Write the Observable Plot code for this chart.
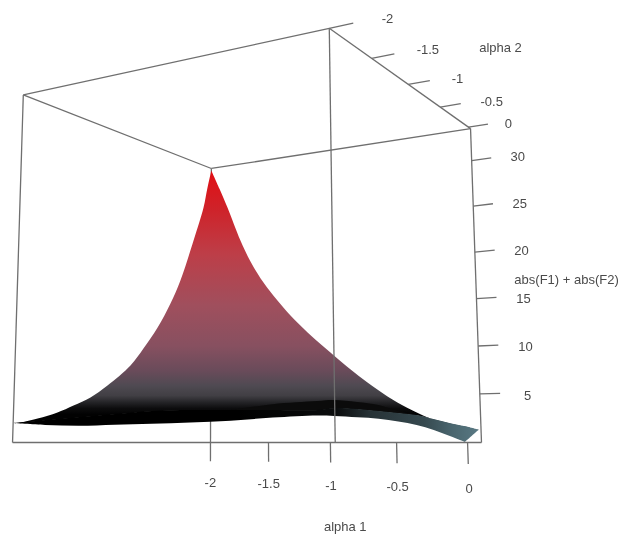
<!DOCTYPE html>
<html>
<head>
<meta charset="utf-8">
<style>html,body{margin:0;padding:0;background:#fff}svg{display:block;filter:blur(0.4px)}</style>
<script src="https://cdn.jsdelivr.net/npm/d3@7"></script>
<script src="https://cdn.jsdelivr.net/npm/@observablehq/plot@0.6"></script>
</head>
<body>
<div id="chart"></div>
<script>
// axis ranges and ticks
const alpha1Range = [-2, 0.094];
const alpha2Range = [0.04, -2];
const zRange = [0, 33.56];
const alpha1Ticks = [-2, -1.5, -1, -0.5, 0];
const alpha2Ticks = [-2, -1.5, -1, -0.5, 0];
const zTicks = [5, 10, 15, 20, 25, 30];
const alpha2LabelAt = [0.418, 0.425, 0.40, 0.43, 0.37];

// surface edge along alpha2 = 0 (alpha1, height)
const edgeA2A1 = [-2, -1.925, -1.852, -1.736, -1.648, -1.536, -1.418, -1.31, -1.171, -1.045, -0.936, -0.834, -0.707, -0.559, -0.414, -0.252, -0.092, 0.07];
const edgeA2Z  = [33.3, 30.85, 28.35, 24.07, 21.39, 18.71, 16.43, 14.56, 12.47, 10.77, 9.34, 8.05, 6.54, 4.96, 3.68, 2.52, 1.77, 1.33];
// surface edge along alpha1 = -2 (alpha2, height)
const edgeA1A2 = [-0.015, -0.064, -0.193, -0.356, -0.475, -0.624, -0.782, -0.921, -1.157, -1.323, -1.482, -1.627, -1.798, -1.98];
const edgeA1Z  = [30.8, 28.3, 23.87, 18.69, 15.77, 12.78, 10.22, 8.22, 5.89, 4.55, 3.66, 2.91, 2.27, 1.75];
// front edge at alpha2 = -2 (alpha1, lower height, crease height)
const frontA1 = [-2, -1.75, -1.5, -1.25, -1, -0.75, -0.5, -0.25, 0, 0.094];
const frontLow = [1.75, 1.54, 1.43, 1.49, 1.54, 1.61, 1.73, 1.93, 2.05, 1.99];
const frontCrease = [1.75, 1.99, 2.21, 2.42, 2.63, 2.65, 2.59, 2.53, 2.47, 2.6];
// side edge at alpha1 = 0.094 (alpha2, lower height, crease height)
const sideA2 = [-1.75, -1.5, -1.25, -1, -0.75, -0.5, -0.25, -0.25, 0];
const sideLow = [1.97, 1.93, 1.77, 1.52, 1.11, 0.57, 0, 0, 1.22];
const sideCrease = [2.63, 2.57, 2.5, 2.41, 2.13, 1.82, 1.58, 1.58, 1.27];
// dark ridge above the crease
const ridgeFrontA1 = [-0.5, -0.25, 0, 0.094];
const ridgeFrontZ = [2.59, 3.0, 3.17, 3.22];
const ridgeSideA2 = [-1.75, -1.5, -1.25, -1];
const ridgeSideZ = [3.19, 3.07, 2.67, 2.41];
// colour ramps
const heightStops = [33.3, 28.5, 22.8, 16.5, 11.5, 8.5, 6.74, 5.55, 4.73, 4.02, 3.3];
const heightColors = ["#e10f14", "#cf2229", "#bd3e48", "#a04f5d", "#875060", "#694b5a", "#4f4a52", "#413f44", "#232326", "#0c0c0d", "#020202"];
const creaseStops = [-1.75, -0.95, -0.7, -0.3, -0.1, 0.07];
const creaseColors = ["#000000", "#0a0c0d", "#263135", "#36494f", "#4a666f", "#587882"];

// perspective of the box (unit cube to page)
function project(a1, a2, z) {
  const u = (a1 - alpha1Range[0]) / (alpha1Range[1] - alpha1Range[0]);
  const v = (alpha2Range[0] - a2) / (alpha2Range[0] - alpha2Range[1]);
  const w = z / zRange[1];
  const q = 1 - 0.132 * u - 0.22 * v;
  const d = q + 0.04 * w;
  return [(210 + 207.5 * u - 200.6 * v + 9.3 * w) / d, (442 * q - 267.3 * w) / d];
}
const pt = (a1, a2, z) => { const [x, y] = project(a1, a2, z); return {x, y}; };
const link = (a, b) => { const p = pt(...a), q = pt(...b); return {x1: p.x, y1: p.y, x2: q.x, y2: q.y}; };

const [aMin, aMax] = alpha1Range, [bMax, bMin] = alpha2Range, zTop = zRange[1];
const tickOut = 0.23, labelOut = 0.41, belowTick = -2.2, belowLabel = -4.7;

const hiddenEdge = [link([aMin, bMax, 0], [aMin, bMax, zTop])];
const boxEdges = [
  link([aMin, bMin, zTop], [aMin, bMax, zTop]),
  link([aMin, bMax, zTop], [aMax, bMax, zTop]),
  link([aMax, bMax, zTop], [aMax, bMin, zTop]),
  link([aMax, bMin, zTop], [aMin, bMin, zTop]),
  link([aMin, bMin, 0], [aMin, bMin, zTop]),
  link([aMax, bMax, 0], [aMax, bMax, zTop]),
  link([aMax, bMin, 0], [aMax, bMin, zTop]),
  link([aMin, bMin, 0], [aMax, bMax, 0])
];
const tickLinks = [
  ...alpha1Ticks.map(t => link([t, bMax, 0], [t, bMax, belowTick])),
  ...alpha2Ticks.map(t => link([aMax, t, zTop], [tickOut, t, zTop])),
  ...zTicks.map(t => link([aMax, bMax, t], [tickOut, bMax, t]))
];
const bottomLabels = [
  ...alpha1Ticks.map(t => ({...pt(t, bMax, belowLabel), text: String(t)})),
  {...pt(-0.895, bMax, -9.1), text: "alpha 1"},
  {...pt(0.758, -1.3, zTop), text: "alpha 2"},
  {...pt(0.69, bMax, 16.3), text: "abs(F1) + abs(F2)"}
];
const sideLabels = [
  ...alpha2Ticks.map((t, i) => ({...pt(alpha2LabelAt[i], t, zTop), text: String(t)})),
  ...zTicks.map(t => ({...pt(labelOut, bMax, t), text: String(t)}))
];

const rows = (stations, place, low, high) => stations.map((s, i) => {
  const l = place(s, low[i]), c = place(s, high[i]);
  return {x1: c.x, y1: c.y, x2: l.x, y2: l.y};
});
const onFront = (a, z) => pt(a, bMin, z);
const onSide = (b, z) => pt(aMax, b, z);
const front = [
  ...rows(frontA1, onFront, frontLow, frontCrease),
  ...rows(sideA2, onSide, sideLow, sideCrease)
];
const ridge = [
  ...rows(ridgeFrontA1, onFront, ridgeFrontA1.map(a => frontCrease[frontA1.indexOf(a)]), ridgeFrontZ),
  ...rows(ridgeSideA2, onSide, ridgeSideA2.map(b => sideCrease[sideA2.indexOf(b)]), ridgeSideZ)
];

// corners are doubled so that the smooth curve stays sharp at them
const rightEdge = edgeA2A1.map((a, i) => pt(a, bMax, edgeA2Z[i]));
const creaseEdge = front.slice().reverse().map(d => ({x: d.x1, y: d.y1}));
const leftEdge = edgeA1A2.map((b, i) => pt(aMin, b, edgeA1Z[i])).reverse();
const outline = [
  rightEdge[0], ...rightEdge, rightEdge[rightEdge.length - 1],
  ...creaseEdge, creaseEdge[creaseEdge.length - 1],
  ...leftEdge, rightEdge[0], rightEdge[0]
];

function gradients(index, scales) {
  const defs = d3.create("svg:defs");
  const y0 = project(aMin, bMax, heightStops[0])[1], y1 = project(aMin, bMax, heightStops[heightStops.length - 1])[1];
  const g1 = defs.append("linearGradient").attr("id", "heightRamp").attr("gradientUnits", "userSpaceOnUse")
    .attr("x1", 0).attr("x2", 0).attr("y1", scales.y(y0)).attr("y2", scales.y(y1));
  heightStops.forEach((h, i) => g1.append("stop")
    .attr("offset", (project(aMin, bMax, h)[1] - y0) / (y1 - y0)).attr("stop-color", heightColors[i]));
  const xs = creaseStops.map(a => project(a, bMax, 0)[0]);
  const g2 = defs.append("linearGradient").attr("id", "creaseRamp").attr("gradientUnits", "userSpaceOnUse")
    .attr("y1", 0).attr("y2", 0).attr("x1", scales.x(xs[0])).attr("x2", scales.x(xs[xs.length - 1]));
  creaseStops.forEach((h, i) => g2.append("stop")
    .attr("offset", (xs[i] - xs[0]) / (xs[xs.length - 1] - xs[0])).attr("stop-color", creaseColors[i]));
  return defs.node();
}

const lineStyle = {x1: "x1", y1: "y1", x2: "x2", y2: "y2", stroke: "#6f6f6f", strokeWidth: 1.3};
const textStyle = {x: "x", y: "y", text: "text", fontSize: 13, fontFamily: "Liberation Sans", fill: "#4a4a4a"};

const chart = Plot.plot({
  width: 620, height: 534,
  margin: 0,
  x: {domain: [0, 620], range: [0, 620], axis: null},
  y: {domain: [0, 534], range: [0, 534], axis: null},
  style: {background: "#fff"},
  marks: [
    gradients,
    Plot.link(hiddenEdge, lineStyle),
    Plot.line(outline, {x: "x", y: "y", fill: "url(#heightRamp)", stroke: "none", curve: "catmull-rom"}),
    Plot.area(ridge, {x1: "x1", y1: "y1", x2: "x2", y2: "y2", fill: "#0b0b0b", curve: "catmull-rom"}),
    Plot.area(front, {x1: "x1", y1: "y1", x2: "x2", y2: "y2", fill: "url(#creaseRamp)", curve: "catmull-rom"}),
    Plot.link(boxEdges, lineStyle),
    Plot.link(tickLinks, lineStyle),
    Plot.text(bottomLabels, textStyle),
    Plot.text(sideLabels, {...textStyle, dy: 3})
  ]
});
document.getElementById("chart").append(chart);
</script>
</body>
</html>
